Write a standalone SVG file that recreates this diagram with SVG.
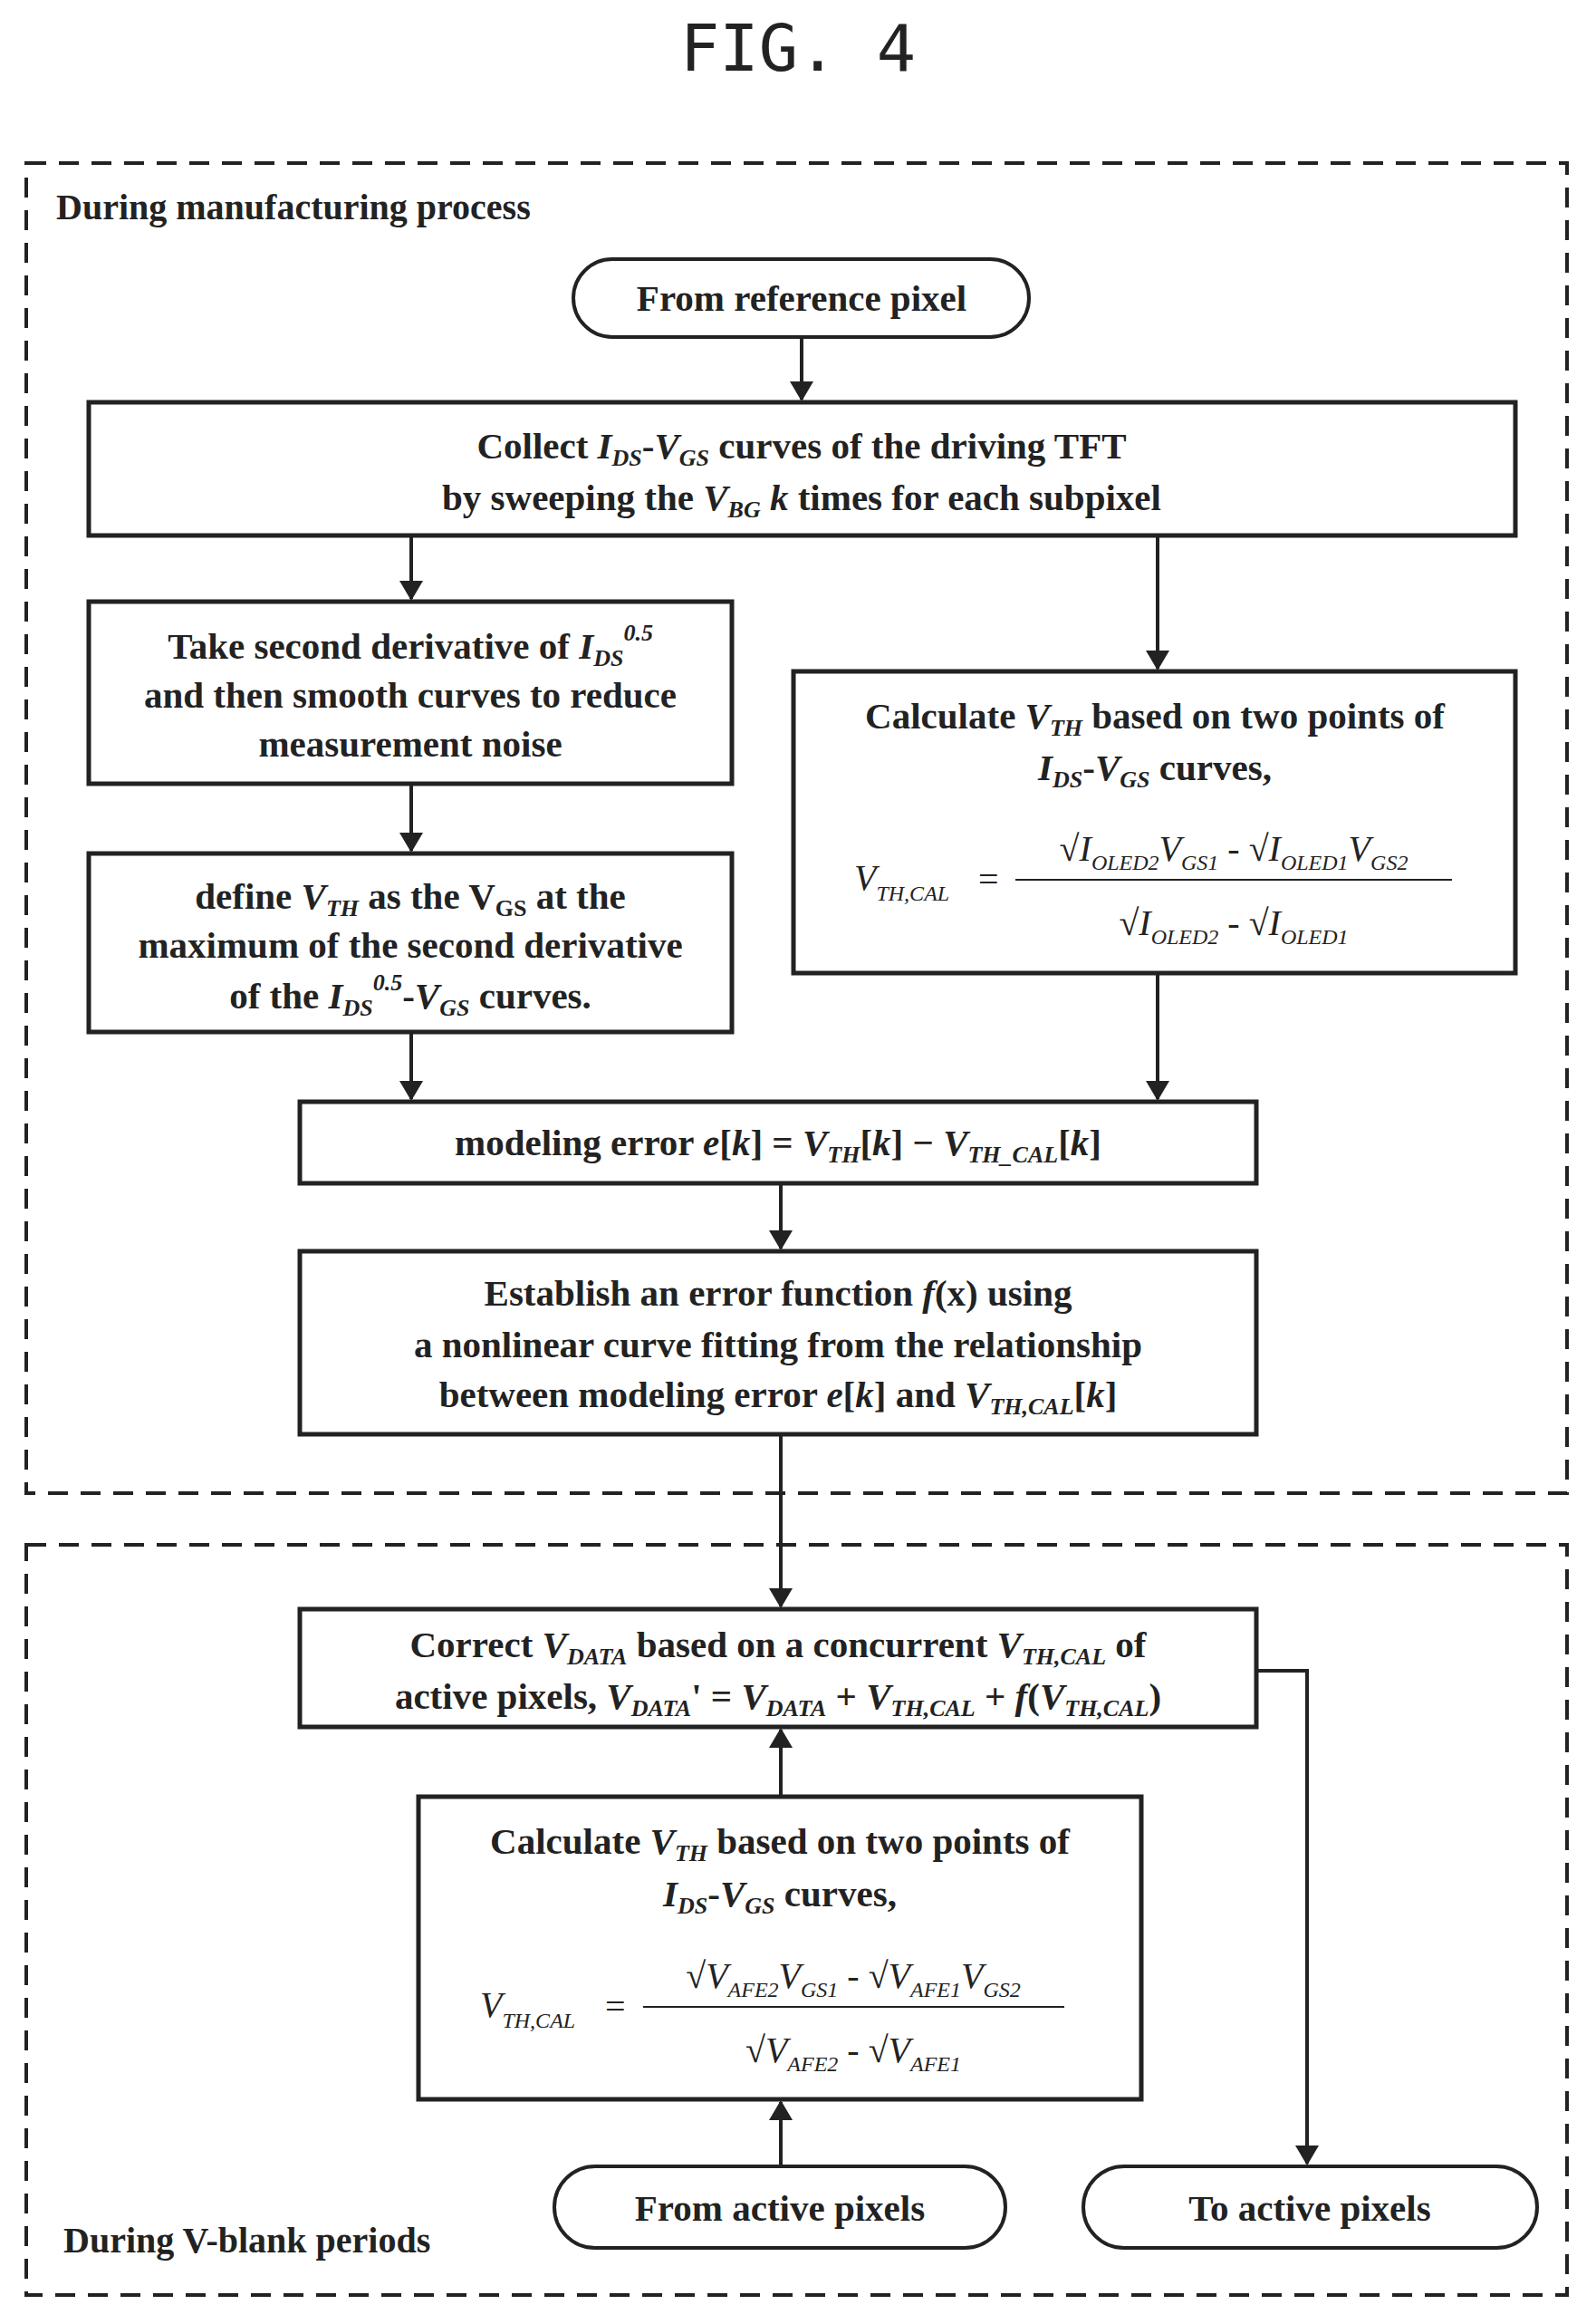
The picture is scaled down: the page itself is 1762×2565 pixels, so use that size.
<svg xmlns="http://www.w3.org/2000/svg" width="1762" height="2565" viewBox="0 0 1762 2565">
<defs>
<marker id="ah" markerWidth="22" markerHeight="26" refX="20" refY="13" orient="auto" markerUnits="userSpaceOnUse" viewBox="0 0 22 26"><path d="M0,0 L22,13 L0,26 z" fill="#222"/></marker>
</defs>
<style>
text{font-family:"Liberation Serif","Times New Roman",serif;font-weight:bold;fill:#222}
.t{font-size:41px;text-anchor:middle}
.box{fill:#fff;stroke:#222;stroke-width:5}
.term{fill:#fff;stroke:#222;stroke-width:4}
.dash{fill:none;stroke:#222;stroke-width:4;stroke-dasharray:22 14}
.c{fill:none;stroke:#222;stroke-width:4;marker-end:url(#ah)}
.f{font-size:40px;font-style:italic;font-weight:normal}
.i{font-style:italic}
.s{font-size:26px;font-style:italic}
.u{font-size:24px}
</style>
<rect width="1762" height="2565" fill="#fff"/>
<text x="881" y="78" style="font-family:'DejaVu Sans Mono',monospace;font-weight:normal;font-size:72px;text-anchor:middle">FIG. 4</text>
<rect class="dash" x="29" y="180" width="1701" height="1468"/>
<rect class="dash" x="29" y="1705" width="1701" height="828"/>
<text x="62" y="242" style="font-size:40px">During manufacturing process</text>
<text x="70" y="2486" style="font-size:40px">During V-blank periods</text>
<g id="connectors">
<line class="c" x1="885" y1="372" x2="885" y2="441"/>
<line class="c" x1="454" y1="591" x2="454" y2="661"/>
<line class="c" x1="1278" y1="591" x2="1278" y2="738"/>
<line class="c" x1="454" y1="865" x2="454" y2="939"/>
<line class="c" x1="454" y1="1139" x2="454" y2="1213"/>
<line class="c" x1="1278" y1="1074" x2="1278" y2="1213"/>
<line class="c" x1="862" y1="1306" x2="862" y2="1378"/>
<line class="c" x1="862" y1="1583" x2="862" y2="1773"/>
<line class="c" x1="862" y1="1983" x2="862" y2="1909"/>
<line class="c" x1="862" y1="2391" x2="862" y2="2320"/>
<polyline class="c" points="1387,1844 1443,1844 1443,2388"/>
</g>
<g id="n_ref"><rect class="term" x="633" y="286" width="503" height="86" rx="43"/><text class="t" x="885" y="343">From reference pixel</text></g>
<g id="n_collect"><rect class="box" x="98" y="444" width="1575" height="147"/>
<text class="t" x="885" y="506">Collect <tspan class="i">I</tspan><tspan class="s" dy="8">DS</tspan><tspan dy="-8">-</tspan><tspan class="i">V</tspan><tspan class="s" dy="8">GS</tspan><tspan dy="-8"> curves of the driving TFT</tspan></text>
<text class="t" x="885" y="563">by sweeping the <tspan class="i">V</tspan><tspan class="s" dy="8">BG</tspan><tspan class="i" dy="-8"> k</tspan> times for each subpixel</text></g>
<g id="n_take"><rect class="box" x="98" y="664" width="710" height="201"/>
<text class="t" x="453" y="727">Take second derivative of <tspan class="i">I</tspan><tspan class="s" dy="8">DS</tspan><tspan class="s" dy="-28">0.5</tspan></text>
<text class="t" x="453" y="781">and then smooth curves to reduce</text>
<text class="t" x="453" y="835">measurement noise</text></g>
<g id="n_define"><rect class="box" x="98" y="942" width="710" height="197"/>
<text class="t" x="453" y="1003">define <tspan class="i">V</tspan><tspan class="s" dy="8">TH</tspan><tspan dy="-8"> as the V</tspan><tspan style="font-size:26px" dy="8">GS</tspan><tspan dy="-8"> at the</tspan></text>
<text class="t" x="453" y="1057">maximum of the second derivative</text>
<text class="t" x="453" y="1113">of the <tspan class="i">I</tspan><tspan class="s" dy="8">DS</tspan><tspan class="s" dy="-28">0.5</tspan><tspan dy="20">-</tspan><tspan class="i">V</tspan><tspan class="s" dy="8">GS</tspan><tspan dy="-8"> curves.</tspan></text></g>
<g id="n_calc1"><rect class="box" x="876" y="741" width="797" height="333"/>
<text class="t" x="1275" y="804">Calculate <tspan class="i">V</tspan><tspan class="s" dy="8">TH</tspan><tspan dy="-8"> based on two points of</tspan></text>
<text class="t" x="1275" y="861"><tspan class="i">I</tspan><tspan class="s" dy="8">DS</tspan><tspan dy="-8">-</tspan><tspan class="i">V</tspan><tspan class="s" dy="8">GS</tspan><tspan dy="-8"> curves,</tspan></text>
<text class="f" x="943" y="982">V<tspan class="u" dy="12">TH,CAL</tspan></text>
<text class="f" x="1080" y="984" style="font-style:normal">=</text>
<line x1="1121" y1="971" x2="1603" y2="971" stroke="#222" stroke-width="2"/>
<text class="f" x="1362" y="950" style="text-anchor:middle"><tspan style="font-style:normal">√</tspan>I<tspan class="u" dy="10">OLED2</tspan><tspan dy="-10">V</tspan><tspan class="u" dy="10">GS1</tspan><tspan dy="-10" style="font-style:normal"> - √</tspan>I<tspan class="u" dy="10">OLED1</tspan><tspan dy="-10">V</tspan><tspan class="u" dy="10">GS2</tspan></text>
<text class="f" x="1362" y="1032" style="text-anchor:middle"><tspan style="font-style:normal">√</tspan>I<tspan class="u" dy="10">OLED2</tspan><tspan dy="-10" style="font-style:normal"> - √</tspan>I<tspan class="u" dy="10">OLED1</tspan></text></g>
<g id="n_model"><rect class="box" x="331" y="1216" width="1056" height="90"/>
<text class="t" x="859" y="1275">modeling error <tspan class="i">e</tspan>[<tspan class="i">k</tspan>] = <tspan class="i">V</tspan><tspan class="s" dy="8">TH</tspan><tspan dy="-8">[</tspan><tspan class="i">k</tspan>] − <tspan class="i">V</tspan><tspan class="s" dy="8">TH_CAL</tspan><tspan dy="-8">[</tspan><tspan class="i">k</tspan>]</text></g>
<g id="n_establish"><rect class="box" x="331" y="1381" width="1056" height="202"/>
<text class="t" x="859" y="1441">Establish an error function <tspan class="i">f</tspan>(x) using</text>
<text class="t" x="859" y="1498">a nonlinear curve fitting from the relationship</text>
<text class="t" x="859" y="1553">between  modeling error <tspan class="i">e</tspan>[<tspan class="i">k</tspan>] and <tspan class="i">V</tspan><tspan class="s" dy="8">TH,CAL</tspan><tspan dy="-8">[</tspan><tspan class="i">k</tspan>]</text></g>
<g id="n_correct"><rect class="box" x="331" y="1776" width="1056" height="130"/>
<text class="t" x="859" y="1829">Correct <tspan class="i">V</tspan><tspan class="s" dy="8">DATA</tspan><tspan dy="-8"> based on a concurrent </tspan><tspan class="i">V</tspan><tspan class="s" dy="8">TH,CAL</tspan><tspan dy="-8"> of</tspan></text>
<text class="t" x="859" y="1886">active pixels, <tspan class="i">V</tspan><tspan class="s" dy="8">DATA</tspan><tspan dy="-8">' = </tspan><tspan class="i">V</tspan><tspan class="s" dy="8">DATA</tspan><tspan dy="-8"> + </tspan><tspan class="i">V</tspan><tspan class="s" dy="8">TH,CAL</tspan><tspan dy="-8"> + </tspan><tspan class="i">f</tspan>(<tspan class="i">V</tspan><tspan class="s" dy="8">TH,CAL</tspan><tspan dy="-8">)</tspan></text></g>
<g id="n_calc2"><rect class="box" x="462" y="1983" width="798" height="334"/>
<text class="t" x="861" y="2046">Calculate <tspan class="i">V</tspan><tspan class="s" dy="8">TH</tspan><tspan dy="-8"> based on two points of</tspan></text>
<text class="t" x="861" y="2104"><tspan class="i">I</tspan><tspan class="s" dy="8">DS</tspan><tspan dy="-8">-</tspan><tspan class="i">V</tspan><tspan class="s" dy="8">GS</tspan><tspan dy="-8"> curves,</tspan></text>
<text class="f" x="530" y="2226">V<tspan class="u" dy="12">TH,CAL</tspan></text>
<text class="f" x="668" y="2228" style="font-style:normal">=</text>
<line x1="710" y1="2215" x2="1175" y2="2215" stroke="#222" stroke-width="2"/>
<text class="f" x="942" y="2194" style="text-anchor:middle"><tspan style="font-style:normal">√</tspan>V<tspan class="u" dy="10">AFE2</tspan><tspan dy="-10">V</tspan><tspan class="u" dy="10">GS1</tspan><tspan dy="-10" style="font-style:normal"> - √</tspan>V<tspan class="u" dy="10">AFE1</tspan><tspan dy="-10">V</tspan><tspan class="u" dy="10">GS2</tspan></text>
<text class="f" x="942" y="2276" style="text-anchor:middle"><tspan style="font-style:normal">√</tspan>V<tspan class="u" dy="10">AFE2</tspan><tspan dy="-10" style="font-style:normal"> - √</tspan>V<tspan class="u" dy="10">AFE1</tspan></text></g>
<g id="n_from"><rect class="term" x="612" y="2391" width="498" height="90" rx="45"/><text class="t" x="861" y="2451">From active pixels</text></g>
<g id="n_to"><rect class="term" x="1196" y="2391" width="501" height="90" rx="45"/><text class="t" x="1446" y="2451">To active pixels</text></g>
</svg>
